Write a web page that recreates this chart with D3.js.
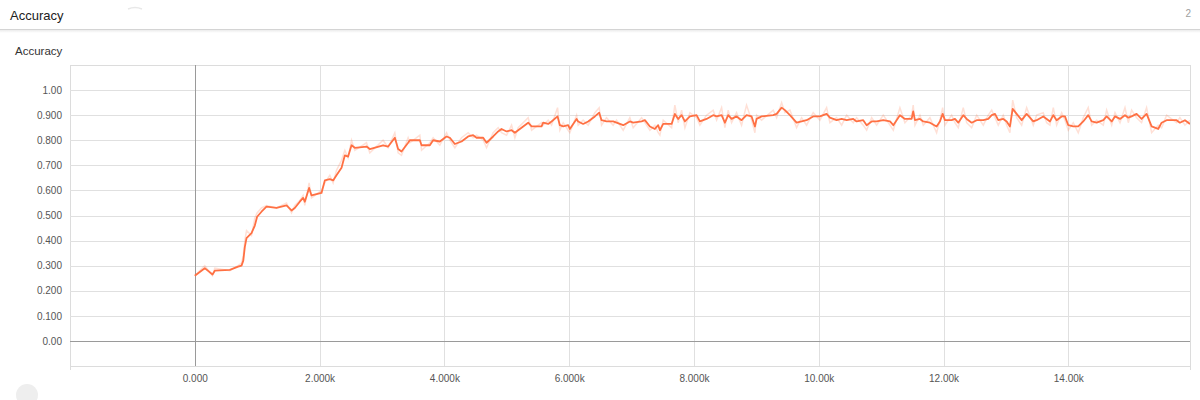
<!DOCTYPE html>
<html>
<head>
<meta charset="utf-8">
<script src="https://cdn.jsdelivr.net/npm/d3@7"></script>
<style>
  body { margin: 0; background: #fff; font-family: "Liberation Sans", Arial, sans-serif; }
  .tick text { font-family: "Liberation Sans", Arial, sans-serif; }
</style>
</head>
<body>
<div id="chart"></div>
<script>
// chart values
var steps = [0,160,284,321,561,694,749,777,802,829,909,962,999,1069,1149,1310,1470,1550,1603,1683,1736,1763,1832,1871,
  2031,2084,2164,2217,2271,2352,2405,2457,2512,2565,2752,2805,3018,3099,3206,3259,3313,3419,3446,3607,3634,3767,3820,3927,
  4035,4088,4168,4275,4381,4461,4516,4622,4676,4782,4862,4916,4997,5077,5130,5183,5343,5398,5558,5583,5664,5718,5814,5851,
  5904,5984,6011,6119,6144,6224,6305,6412,6481,6519,6599,6705,6759,6866,6973,7026,7161,7214,7294,7374,7427,7454,7507,7642,
  7694,7747,7802,7855,7935,8042,8095,8202,8308,8363,8443,8496,8549,8603,8683,8763,8843,8924,8977,9004,9084,9270,9325,9405,
  9458,9538,9645,9725,9805,9911,10019,10126,10179,10286,10367,10447,10553,10607,10713,10768,10848,10928,11034,11142,11195,
  11301,11381,11489,11514,11542,11622,11675,11782,11889,11942,11986,12023,12130,12183,12236,12316,12371,12451,12531,12637,
  12717,12772,12825,12877,12957,13012,13064,13108,13172,13252,13332,13438,13492,13598,13653,13706,13759,13813,13893,13946,
  13999,14079,14159,14239,14319,14374,14454,14560,14614,14695,14748,14828,14908,14961,15014,15094,15174,15254,15335,15440,
  15495,15575,15735,15788,15869,15950];

var smoothed = [0.26,0.29,0.265,0.28,0.283,0.296,0.30,0.32,0.375,0.41,0.43,0.46,0.495,0.515,0.535,0.53,0.54,0.52,0.53,0.555,0.57,0.555,0.61,0.58,
  0.59,0.64,0.645,0.64,0.66,0.69,0.74,0.735,0.78,0.77,0.775,0.765,0.78,0.775,0.81,0.765,0.755,0.79,0.80,0.80,0.78,0.78,0.80,0.795,
  0.815,0.81,0.785,0.795,0.815,0.82,0.81,0.81,0.79,0.815,0.835,0.845,0.835,0.84,0.83,0.84,0.87,0.855,0.855,0.87,0.865,0.875,0.895,0.86,
  0.855,0.86,0.845,0.885,0.875,0.865,0.875,0.895,0.91,0.88,0.875,0.875,0.87,0.86,0.875,0.87,0.875,0.88,0.855,0.845,0.86,0.84,0.865,0.865,
  0.905,0.885,0.90,0.875,0.895,0.90,0.875,0.885,0.90,0.895,0.90,0.87,0.90,0.885,0.895,0.88,0.90,0.895,0.855,0.885,0.895,0.90,0.905,0.93,
  0.92,0.90,0.87,0.875,0.88,0.895,0.895,0.905,0.89,0.88,0.885,0.88,0.885,0.875,0.88,0.86,0.875,0.875,0.88,0.875,0.86,
  0.90,0.885,0.885,0.915,0.88,0.885,0.875,0.87,0.855,0.875,0.905,0.88,0.88,0.885,0.87,0.90,0.885,0.87,0.88,0.88,
  0.885,0.90,0.905,0.88,0.885,0.875,0.855,0.925,0.905,0.88,0.905,0.875,0.88,0.895,0.885,0.875,0.90,0.88,0.895,0.895,
  0.86,0.855,0.855,0.875,0.90,0.875,0.87,0.88,0.895,0.875,0.895,0.885,0.90,0.89,0.895,0.905,0.885,0.905,0.855,0.845,
  0.87,0.88,0.88,0.87,0.88,0.865];

// faint raw trace behind the smoothed one
var raw = [0.26,0.30,0.26,0.29,0.28,0.30,0.31,0.34,0.40,0.44,0.42,0.49,0.51,0.53,0.54,0.53,0.55,0.51,0.54,0.56,0.58,0.54,0.63,0.57,
  0.60,0.63,0.66,0.63,0.68,0.72,0.76,0.73,0.80,0.76,0.79,0.75,0.80,0.77,0.83,0.75,0.74,0.81,0.79,0.82,0.76,0.79,0.81,0.78,
  0.83,0.80,0.77,0.81,0.83,0.81,0.82,0.80,0.77,0.83,0.85,0.83,0.82,0.86,0.81,0.85,0.89,0.84,0.87,0.86,0.88,0.86,0.93,0.84,
  0.87,0.84,0.83,0.90,0.86,0.88,0.86,0.91,0.93,0.86,0.89,0.86,0.88,0.84,0.89,0.85,0.89,0.87,0.84,0.86,0.83,0.82,0.88,0.85,
  0.94,0.87,0.92,0.85,0.91,0.89,0.86,0.90,0.92,0.88,0.93,0.85,0.92,0.87,0.91,0.86,0.94,0.88,0.83,0.90,0.88,0.92,0.89,0.95,
  0.91,0.92,0.85,0.89,0.86,0.91,0.88,0.93,0.87,0.89,0.86,0.90,0.87,0.89,0.86,0.84,0.89,0.86,0.90,0.86,0.84,
  0.93,0.87,0.90,0.94,0.86,0.90,0.86,0.89,0.83,0.88,0.93,0.86,0.90,0.87,0.85,0.93,0.87,0.85,0.90,0.86,
  0.90,0.92,0.89,0.86,0.90,0.86,0.83,0.96,0.89,0.86,0.93,0.86,0.90,0.91,0.87,0.86,0.93,0.86,0.91,0.88,
  0.84,0.87,0.83,0.89,0.93,0.86,0.88,0.86,0.92,0.86,0.91,0.87,0.93,0.87,0.92,0.89,0.87,0.93,0.83,0.86,
  0.85,0.90,0.87,0.89,0.86,0.88];

var yTicks = [0, 0.1, 0.2, 0.3, 0.4, 0.5, 0.6, 0.7, 0.8, 0.9, 1.0];
var yTickLabels = ["0.00","0.100","0.200","0.300","0.400","0.500","0.600","0.700","0.800","0.900","1.00"];
var xTicks = [0, 2000, 4000, 6000, 8000, 10000, 12000, 14000];
var xTickLabels = ["0.000","2.000k","4.000k","6.000k","8.000k","10.00k","12.00k","14.00k"];

var width = 1200, height = 400;
var plot = {left: 70, right: 1190, top: 65, bottom: 366};

var svg = d3.select("#chart").append("svg")
    .attr("width", width)
    .attr("height", height);

// header bar
var defs = svg.append("defs");
var grad = defs.append("linearGradient").attr("id", "shadow").attr("x1", 0).attr("y1", 0).attr("x2", 0).attr("y2", 1);
grad.append("stop").attr("offset", "0%").attr("stop-color", "#000").attr("stop-opacity", 0.10);
grad.append("stop").attr("offset", "100%").attr("stop-color", "#000").attr("stop-opacity", 0);
svg.append("rect").attr("x", 0).attr("y", 29).attr("width", width).attr("height", 4).attr("fill", "url(#shadow)");
svg.append("line").attr("x1", 0).attr("x2", width).attr("y1", 29.5).attr("y2", 29.5)
    .attr("stroke", "#d4d4d4");

svg.append("text").attr("x", 10).attr("y", 20)
    .attr("font-size", "13px").attr("fill", "#212121").text("Accuracy");
svg.append("text").attr("x", 1191).attr("y", 17).attr("text-anchor", "end")
    .attr("font-size", "10px").attr("fill", "#9e9e9e").text("2");
svg.append("path").attr("d", "M128,9 Q135,6 142,9").attr("fill", "none").attr("stroke", "#e8e8e8").attr("stroke-width", 1.5);

svg.append("text").attr("x", 15).attr("y", 55)
    .attr("font-size", "11.5px").attr("fill", "#333").text("Accuracy");

svg.append("circle").attr("cx", 27).attr("cy", 395).attr("r", 11).attr("fill", "#eeeeee");

var x = d3.scaleLinear().domain([-2000, 15950]).range([plot.left, plot.right]);
var y = d3.scaleLinear().domain([-0.1, 1.1]).range([plot.bottom, plot.top]);

// frame
var frame = svg.append("g").attr("stroke", "#dcdcdc").attr("stroke-width", 1);
frame.append("line").attr("x1", plot.left + 0.5).attr("x2", plot.left + 0.5).attr("y1", plot.top).attr("y2", plot.bottom + 4);
frame.append("line").attr("x1", plot.right + 0.5).attr("x2", plot.right + 0.5).attr("y1", plot.top).attr("y2", plot.bottom + 4);
frame.append("line").attr("x1", plot.left).attr("x2", plot.right).attr("y1", plot.top + 0.5).attr("y2", plot.top + 0.5);
frame.append("line").attr("x1", plot.left).attr("x2", plot.right).attr("y1", plot.bottom + 0.5).attr("y2", plot.bottom + 0.5);

// grid lines
svg.append("g").selectAll("line.hg").data(yTicks.filter(function(d){ return d !== 0; }))
  .enter().append("line")
    .attr("x1", plot.left).attr("x2", plot.right)
    .attr("y1", function(d){ return Math.round(y(d)) + 0.5; })
    .attr("y2", function(d){ return Math.round(y(d)) + 0.5; })
    .attr("stroke", "#e0e0e0");

svg.append("g").selectAll("line.vg").data(xTicks.filter(function(d){ return d !== 0; }))
  .enter().append("line")
    .attr("x1", function(d){ return Math.round(x(d)) + 0.5; })
    .attr("x2", function(d){ return Math.round(x(d)) + 0.5; })
    .attr("y1", plot.top).attr("y2", plot.bottom)
    .attr("stroke", "#e0e0e0");

// zero lines are darker
svg.append("line").attr("x1", plot.left).attr("x2", plot.right)
    .attr("y1", Math.round(y(0)) + 0.5).attr("y2", Math.round(y(0)) + 0.5)
    .attr("stroke", "#9a9a9a");
svg.append("line").attr("x1", Math.round(x(0)) + 0.5).attr("x2", Math.round(x(0)) + 0.5)
    .attr("y1", plot.top).attr("y2", plot.bottom)
    .attr("stroke", "#9a9a9a");

// axes (labels only)
var yAxis = d3.axisLeft(y).tickValues(yTicks).tickSize(0).tickPadding(8)
    .tickFormat(function(d, i){ return yTickLabels[i]; });
var gy = svg.append("g").attr("transform", "translate(" + plot.left + ",0)").call(yAxis);
gy.select(".domain").remove();
gy.selectAll("text").attr("font-size", "10px").attr("fill", "#555");

var xAxis = d3.axisBottom(x).tickValues(xTicks).tickSize(0).tickPadding(9)
    .tickFormat(function(d, i){ return xTickLabels[i]; });
var gx = svg.append("g").attr("transform", "translate(0," + plot.bottom + ")").call(xAxis);
gx.select(".domain").remove();
gx.selectAll("text").attr("font-size", "10px").attr("fill", "#555");

// lines
defs.append("clipPath").attr("id", "clip").append("rect")
    .attr("x", plot.left).attr("y", plot.top).attr("width", plot.right - plot.left).attr("height", plot.bottom - plot.top);

var line = d3.line()
    .x(function(d){ return x(d[0]); })
    .y(function(d){ return y(d[1]); });

var g = svg.append("g").attr("clip-path", "url(#clip)");
g.append("path")
    .datum(steps.map(function(s, i){ return [s, raw[i]]; }))
    .attr("d", line)
    .attr("fill", "none")
    .attr("stroke", "#ff7043")
    .attr("stroke-opacity", 0.22)
    .attr("stroke-width", 1.5);

g.append("path")
    .datum(steps.map(function(s, i){ return [s, smoothed[i]]; }))
    .attr("d", line)
    .attr("fill", "none")
    .attr("stroke", "#ff7043")
    .attr("stroke-width", 1.8)
    .attr("stroke-linejoin", "round");
</script>
</body>
</html>
